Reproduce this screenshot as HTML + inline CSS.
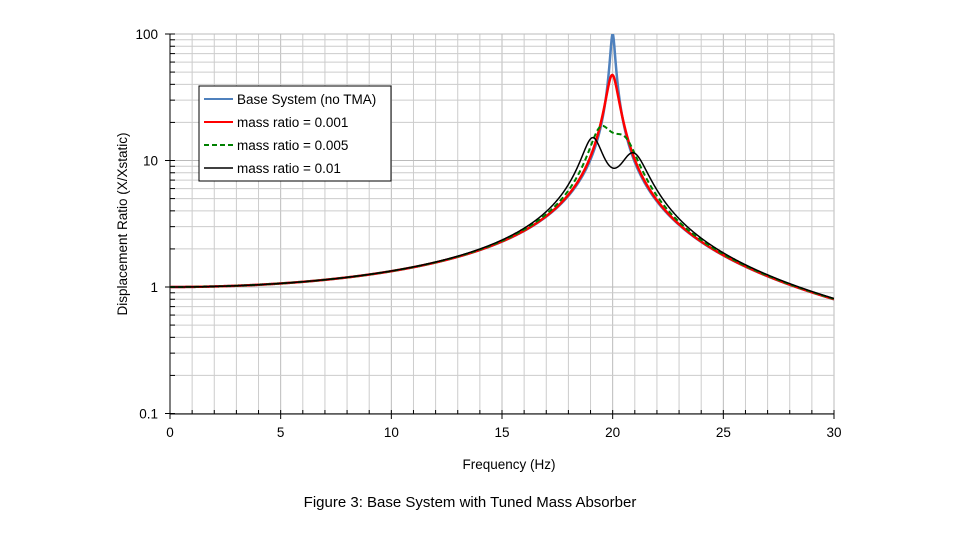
<!DOCTYPE html>
<html><head><meta charset="utf-8"><style>
body{margin:0;background:#fff;width:960px;height:541px;overflow:hidden}
svg{display:block;font-family:"Liberation Sans",Arial,sans-serif}
</style></head><body>
<svg id="s" width="960" height="541" xmlns="http://www.w3.org/2000/svg">
<defs><clipPath id="c"><rect x="170" y="34" width="664" height="380"/></clipPath></defs>
<g id="grid"></g>
<g id="curves" clip-path="url(#c)"></g>
<g id="lab" font-size="13.5" fill="#000"></g>
<rect x="199" y="86" width="192" height="95" fill="#fff" stroke="#000" stroke-width="1"/>
<line x1="204" y1="99" x2="233" y2="99" stroke="#4f81bd" stroke-width="2"/>
<line x1="204" y1="122" x2="233" y2="122" stroke="#f00" stroke-width="2"/>
<line x1="204" y1="145" x2="233" y2="145" stroke="#008000" stroke-width="2" stroke-dasharray="5,3"/>
<line x1="204" y1="168" x2="233" y2="168" stroke="#000" stroke-width="1.5"/>
<g font-size="13.5" fill="#000">
<text x="237" y="104">Base System (no TMA)</text>
<text x="237" y="127">mass ratio = 0.001</text>
<text x="237" y="150">mass ratio = 0.005</text>
<text x="237" y="173">mass ratio = 0.01</text>
</g>
<text x="509" y="469" font-size="13.5" text-anchor="middle">Frequency (Hz)</text>
<text transform="translate(127,224) rotate(-90)" font-size="13.5" text-anchor="middle">Displacement Ratio (X/Xstatic)</text>
<text x="470" y="507" font-size="15" text-anchor="middle">Figure 3: Base System with Tuned Mass Absorber</text>
</svg>
<script>
const X=f=>170+f*664/30, Y=v=>287-Math.log10(v)*126.5;
const ns="http://www.w3.org/2000/svg";
function el(p,t,a,txt){const e=document.createElementNS(ns,t);for(const k in a)e.setAttribute(k,a[k]);if(txt!==undefined)e.textContent=txt;p.appendChild(e);return e;}
const g=document.getElementById('grid'),lab=document.getElementById('lab');
for(let f=0;f<=30;f++){el(g,'line',{x1:X(f),x2:X(f),y1:34,y2:414,stroke:f%5==0?'#bbb':'#ccc','stroke-width':1});}
for(let d=-1;d<2;d++)for(let m=1;m<10;m++){const y=Y(m*Math.pow(10,d));el(g,'line',{x1:170,x2:834,y1:y,y2:y,stroke:m==1?'#bbb':'#ccc','stroke-width':1});}
el(g,'line',{x1:170,x2:834,y1:Y(100),y2:Y(100),stroke:'#bbb'});
el(g,'line',{x1:170,x2:170,y1:34,y2:414,stroke:'#000'});
el(g,'line',{x1:170,x2:834,y1:414,y2:414,stroke:'#000'});
for(let d=-1;d<=2;d++){el(lab,'text',{x:158,y:Y(Math.pow(10,d))+5,'text-anchor':'end'},String(Math.pow(10,d)));}
for(let f=0;f<=30;f+=5)el(lab,'text',{x:X(f),y:437,'text-anchor':'middle'},String(f));
for(let d=-1;d<2;d++)for(let m=1;m<10;m++){const y=Y(m*Math.pow(10,d));el(g,'line',{x1:m==1?165:170,x2:175,y1:y,y2:y,stroke:'#000'});}
el(g,'line',{x1:165,x2:175,y1:Y(100),y2:Y(100),stroke:'#000'});
for(let f=0;f<=30;f++)el(g,'line',{x1:X(f),x2:X(f),y1:f%5==0?419:414,y2:410,stroke:'#000'});
function cmul(a,b){return[a[0]*b[0]-a[1]*b[1],a[0]*b[1]+a[1]*b[0]];}
function resp(f,mu,za){const z=0.005,r=f/20;
 if(mu==0)return 1/Math.hypot(1-r*r,2*z*r);
 const k2=mu, c2=2*za*mu;
 const A=[1+k2-r*r,2*z*r+c2*r], B=[k2-mu*r*r,c2*r], C=[k2,c2*r];
 const AB=cmul(A,B),CC=cmul(C,C);const D=[AB[0]-CC[0],AB[1]-CC[1]];
 return Math.hypot(B[0],B[1])/Math.hypot(D[0],D[1]);}
const cv=document.getElementById('curves');
function draw(mu,za,col,w,dash){let d='';for(let i=0;i<=3000;i++){const f=i*30/3000;let v=resp(f,mu,za);v=Math.min(v,200);d+=(i?'L':'M')+X(f).toFixed(2)+' '+Y(v).toFixed(2);}
 const a={d:d,fill:'none',stroke:col,'stroke-width':w};if(dash)a['stroke-dasharray']=dash;el(cv,'path',a);}
draw(0,0,'#4f81bd',2.5);
draw(0.001,0.045,'#f00',2.5);
draw(0.005,0.05,'#008000',2,'5,3');
draw(0.01,0.048,'#000',1.5);
</script>
</body></html>
